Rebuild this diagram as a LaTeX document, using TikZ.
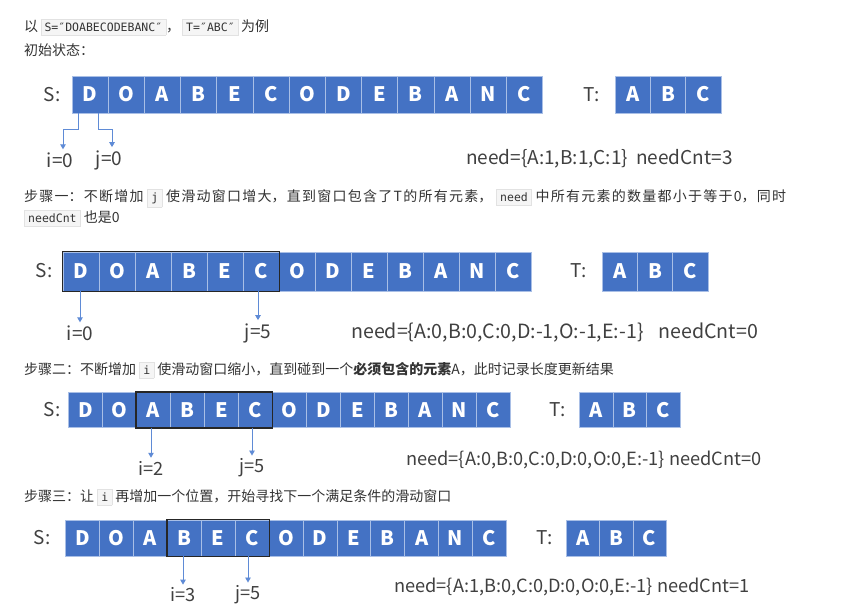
\documentclass[tikz,border=0pt]{standalone}
\usepackage{fontspec}
\setmainfont{Noto Sans CJK SC}
\setmonofont{DejaVu Sans Mono}
\usetikzlibrary{positioning,arrows.meta,calc}

\definecolor{cellblue}{HTML}{4472C4}
\definecolor{celledge}{HTML}{A9BFE6}
\definecolor{ptrblue}{HTML}{5F8BD6}
\definecolor{winedge}{HTML}{262626}
\definecolor{txtgrey}{HTML}{404040}
\definecolor{capgrey}{HTML}{333333}
\definecolor{codebg}{HTML}{F5F5F5}
\definecolor{codeedge}{HTML}{E2E2E2}

% glue between CJK characters, so that a forced line can be justified
\XeTeXlinebreaklocale "zh"
\XeTeXlinebreakskip=0pt plus 3pt

\newcommand{\code}[1]{{\setlength{\fboxsep}{3.5pt}\setlength{\fboxrule}{0.5pt}%
  \fcolorbox{codeedge}{codebg}{\ttfamily\fontsize{11.5}{13}\selectfont\color{capgrey}#1}}}

\begin{document}
\begin{tikzpicture}[x=1pt, y=-1pt,
  cell/.style={draw=celledge, line width=0.8pt, fill=cellblue, text=white, inner sep=0pt,
    font=\fontsize{20}{20}\bfseries\selectfont},
  win/.style={draw=winedge, line width=1.4pt},
  ptr/.style={draw=ptrblue, line width=0.9pt, -{Triangle[width=5.5pt,length=5pt]}, shorten >=2pt},
  lbl/.style={text=txtgrey, inner sep=1pt, font=\fontsize{19}{19}\selectfont},
  small lbl/.style={lbl, font=\fontsize{18.2}{19}\selectfont},
  caption/.style={text=capgrey, anchor=west, inner sep=0pt, font=\fontsize{14}{21}\selectfont}]

\fill[white] (0,0) rectangle (865,607);
\useasboundingbox (0,0) rectangle (865,607);

% Captions
\node[caption] (cap0) at (24,27) {以\,\code{S=″DOABECODEBANC″}，\hspace{2pt}\code{T=″ABC″}\,为例};
\node[caption] (cap1) at (24,50) {初始状态：};
\node[caption, text width=762pt, align=justify] (cap2) at (24,207.5)
  {步骤一：不断增加 \code{j} 使滑动窗口增大，直到窗口包含了T的所有元素， \code{need} 中所有元素的数量都小于等于0，同时\linebreak
   \code{needCnt} 也是0};
\node[caption] (cap3) at (24,370) {步骤二：不断增加 \code{i} 使滑动窗口缩小，直到碰到一个\textbf{必须包含的元素}A，此时记录长度更新结果};
\node[caption] (cap4) at (24,497) {步骤三：让 \code{i} 再增加一个位置，开始寻找下一个满足条件的滑动窗口};

% Row 1: initial state
\node[lbl] (sa) at (52,95) {S:};
\foreach \ch [count=\k] in {D,O,A,B,E,C,O,D,E,B,A,N,C}
  \node[cell, minimum width=36.2pt, minimum height=37pt] (a\k) at ({72+(\k-0.5)*36.2}, 94.5) {\ch};
\node[lbl] (ta) at (592,95) {T:};
\foreach \ch [count=\k] in {A,B,C}
  \node[cell, minimum width=35.3pt, minimum height=37pt] (ta\k) at ({615+(\k-0.5)*35.3}, 94.5) {\ch};
\node[lbl] (ia) at (60,160) {i=0};
\node[lbl] (ja) at (109,160) {j=0};
\draw[ptr] ([xshift=-12pt]a1.south) -- ++(0,16) -| ([xshift=3pt]ia.north);
\draw[ptr] ([xshift=8pt]a1.south) -- ++(0,16) -| ([xshift=3pt]ja.north);
\node[lbl, anchor=west] (needa) at (465,159) {need=\{A:1,B:1,C:1\}\hspace{8pt}needCnt=3};

% Row 2: j moves right
\node[lbl] (sb) at (44,271) {S:};
\foreach \ch [count=\k] in {D,O,A,B,E,C,O,D,E,B,A,N,C}
  \node[cell, minimum width=36pt, minimum height=39pt] (b\k) at ({63+(\k-0.5)*36}, 271.5) {\ch};
\draw[win] (b1.north west) rectangle (b6.south east);
\node[lbl] (tb) at (579,271) {T:};
\foreach \ch [count=\k] in {A,B,C}
  \node[cell, minimum width=35.3pt, minimum height=39pt] (tb\k) at ({602+(\k-0.5)*35.3}, 271.5) {\ch};
\node[lbl] (ib) at (80,333) {i=0};
\node[lbl] (jb) at (258,333) {j=5};
\draw[ptr] (b1.south -| ib.north) -- (ib.north);
\draw[ptr] (b6.south -| jb.north) -- (jb.north);
\node[lbl, anchor=west, font=\fontsize{19.6}{20}\selectfont] (needb) at (350,333) {need=\{A:0,B:0,C:0,D:-1,O:-1,E:-1\}\hspace{15pt}needCnt=0};

% Row 3: i moves right
\node[lbl] (sc) at (52,410) {S:};
\foreach \ch [count=\k] in {D,O,A,B,E,C,O,D,E,B,A,N,C}
  \node[cell, minimum width=34pt, minimum height=35pt] (c\k) at ({68.3+(\k-0.5)*34}, 410) {\ch};
\draw[win] (c3.north west) rectangle (c6.south east);
\node[lbl] (tc) at (558,410) {T:};
\foreach \ch [count=\k] in {A,B,C}
  \node[cell, minimum width=33.6pt, minimum height=35pt] (tc\k) at ({579.3+(\k-0.5)*33.6}, 410) {\ch};
\node[small lbl] (ic) at (151,468) {i=2};
\node[small lbl] (jc) at (252,468) {j=5};
\draw[ptr] (c3.south -| ic.north) -- (ic.north);
\draw[ptr] (c6.south -| jc.north) -- (jc.north);
\node[small lbl, anchor=west] (needc) at (405,460) {need=\{A:0,B:0,C:0,D:0,O:0,E:-1\} needCnt=0};

% Row 4: next window
\node[lbl] (sd) at (42,538) {S:};
\foreach \ch [count=\k] in {D,O,A,B,E,C,O,D,E,B,A,N,C}
  \node[cell, minimum width=33.9pt, minimum height=36pt] (d\k) at ({65.7+(\k-0.5)*33.9}, 538) {\ch};
\draw[win] (d4.north west) rectangle (d6.south east);
\node[lbl] (td) at (545,538) {T:};
\foreach \ch [count=\k] in {A,B,C}
  \node[cell, minimum width=33.1pt, minimum height=36pt] (td\k) at ({566.7+(\k-0.5)*33.1}, 538) {\ch};
\node[small lbl] (id) at (183,595) {i=3};
\node[small lbl] (jd) at (248,595) {j=5};
\draw[ptr] (d4.south -| id.north) -- (id.north);
\draw[ptr] (d6.south -| jd.north) -- (jd.north);
\node[small lbl, anchor=west] (needd) at (393,587) {need=\{A:1,B:0,C:0,D:0,O:0,E:-1\} needCnt=1};

\end{tikzpicture}
\end{document}
